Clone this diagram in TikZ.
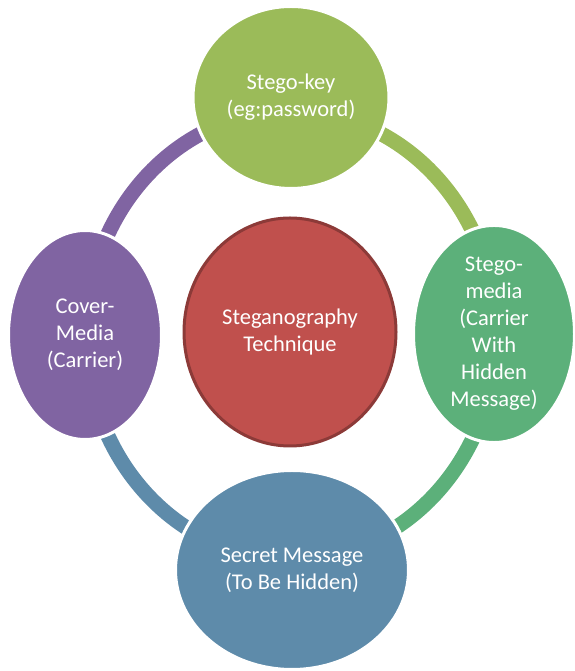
\documentclass[tikz,border=0pt]{standalone}
\usepackage{fontspec}
\setmainfont{Carlito}
\usetikzlibrary{shapes.geometric}

\definecolor{keygreen}{RGB}{155,187,89}
\definecolor{mediagreen}{RGB}{92,176,122}
\definecolor{msgblue}{RGB}{94,139,170}
\definecolor{coverpurple}{RGB}{128,100,162}
\definecolor{techred}{RGB}{192,80,77}
\definecolor{techborder}{RGB}{140,58,56}

\tikzset{
  stage/.style={ellipse, draw=white, line width=3pt, inner sep=0pt,
    text=white, align=center, font=\fontsize{22.5}{27}\selectfont},
  hub/.style={stage, draw=techborder},
  ring/.style={line width=15pt}
}

\begin{document}
\begin{tikzpicture}[x=1pt,y=1pt]
  \useasboundingbox (0,0) rectangle (574,671);

  % points where the ring meets each stage
  \coordinate (ringT) at (291,560);
  \coordinate (ringR) at (496,336);
  \coordinate (ringB) at (291,112);
  \coordinate (ringL) at (86,336);

  % cycle ring, one quarter per stage
  \draw[ring, coverpurple] (ringL) arc[start angle=180, end angle=90, x radius=205, y radius=224];
  \draw[ring, keygreen]    (ringT) arc[start angle=90, end angle=0, x radius=205, y radius=224];
  \draw[ring, mediagreen]  (ringR) arc[start angle=0, end angle=-90, x radius=205, y radius=224];
  \draw[ring, msgblue]     (ringB) arc[start angle=-90, end angle=-180, x radius=205, y radius=224];

  % stages
  \node[stage, fill=keygreen, minimum width=196, minimum height=182] (key) at (291,573.5)
    {Stego-key\\(eg:password)};
  \node[stage, fill=mediagreen, minimum width=161, minimum height=215] (media) at (494,337)
    {Stego-\\media\\(Carrier\\With\\Hidden\\Message)};
  \node[stage, fill=msgblue, minimum width=233, minimum height=199] (msg) at (292,101)
    {Secret Message\\(To Be Hidden)};
  \node[stage, fill=coverpurple, minimum width=153, minimum height=209] (cover) at (85,336)
    {Cover-\\Media\\(Carrier)};

  % central technique
  \node[hub, fill=techred, minimum width=212, minimum height=228] (tech) at (290,339)
    {Steganography\\Technique};
\end{tikzpicture}
\end{document}
